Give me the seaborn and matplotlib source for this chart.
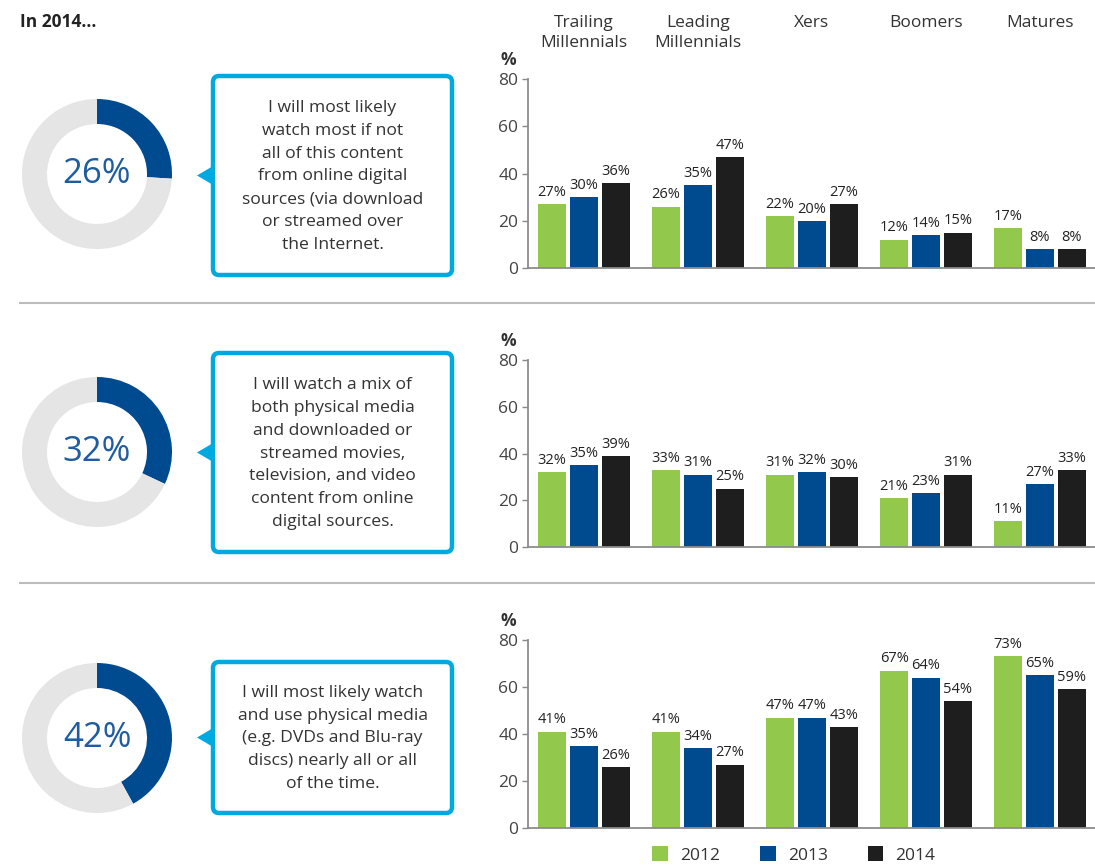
import matplotlib
matplotlib.use("Agg")
import matplotlib.pyplot as plt
from matplotlib.patches import FancyBboxPatch, Polygon
import numpy as np
import pandas as pd
import seaborn as sns

# ---- data -------------------------------------------------------------
groups = ["Trailing\nMillennials", "Leading\nMillennials", "Xers", "Boomers", "Matures"]
years = ["2012", "2013", "2014"]

online_2012 = [27, 26, 22, 12, 17]
online_2013 = [30, 35, 20, 14, 8]
online_2014 = [36, 47, 27, 15, 8]

mix_2012 = [32, 33, 31, 21, 11]
mix_2013 = [35, 31, 32, 23, 27]
mix_2014 = [39, 25, 30, 31, 33]

physical_2012 = [41, 41, 47, 67, 73]
physical_2013 = [35, 34, 47, 64, 65]
physical_2014 = [26, 27, 43, 54, 59]

donut_shares = [26, 32, 42]

statements = [
    "I will most likely\nwatch most if not\nall of this content\nfrom online digital\nsources (via download\nor streamed over\nthe Internet.",
    "I will watch a mix of\nboth physical media\nand downloaded or\nstreamed movies,\ntelevision, and video\ncontent from online\ndigital sources.",
    "I will most likely watch\nand use physical media\n(e.g. DVDs and Blu-ray\ndiscs) nearly all or all\nof the time.",
]

panels = [
    (online_2012, online_2013, online_2014),
    (mix_2012, mix_2013, mix_2014),
    (physical_2012, physical_2013, physical_2014),
]

# ---- style ------------------------------------------------------------
GREEN = "#92C84B"
BLUE = "#004A8F"
BLACK = "#1E1E1E"
RING_GREY = "#E5E5E5"
CYAN = "#00A9E0"
TEXT = "#333333"
palette = {"2012": GREEN, "2013": BLUE, "2014": BLACK}

sns.set_theme(style="white")
plt.rcParams["font.family"] = ["Open Sans", "DejaVu Sans"]

W, H = 1095, 867
fig = plt.figure(figsize=(W / 100, H / 100), dpi=100)

# overlay in pixel coordinates for separators, callouts, title
bg = fig.add_axes([0, 0, 1, 1], zorder=0)
bg.set_xlim(0, W)
bg.set_ylim(H, 0)
bg.axis("off")

bg.text(20, 22, "In 2014...", fontsize=12.5, fontweight="bold", color="#222222",
        ha="left", va="center")

for y in (303, 583):
    bg.plot([19, W], [y, y], color="#BDBDBD", lw=1.5, solid_capstyle="butt")

# layout (pixel positions)
donut_cy = [174, 452, 738]
donut_cx = 97
donut_r = 75
boxes = [(213, 76, 452, 275), (213, 353, 452, 552), (213, 662, 452, 813)]
axis_rows = [(79, 268), (360, 547), (640, 828)]  # pixel y of 80 and 0
ax_left = 528
first_center = 584
step = 114

for i in range(3):
    # donut
    cy = donut_cy[i]
    dax = fig.add_axes([(donut_cx - donut_r) / W, 1 - (cy + donut_r) / H,
                        2 * donut_r / W, 2 * donut_r / H], zorder=2)
    share = donut_shares[i]
    dax.pie([share, 100 - share], colors=[BLUE, RING_GREY], startangle=90,
            counterclock=False, radius=1,
            wedgeprops=dict(width=25 / 75, linewidth=0))
    dax.set_xlim(-1, 1)
    dax.set_ylim(-1, 1)
    dax.set_aspect("equal")
    dax.text(0, 0, f"{share}%", ha="center", va="center", fontsize=25,
             color="#1F5DA0")

    # callout box
    x0, y0, x1, y1 = boxes[i]
    box = FancyBboxPatch((x0, y0), x1 - x0, y1 - y0,
                         boxstyle="round,pad=0,rounding_size=6",
                         fc="white", ec=CYAN, lw=3.2, zorder=3)
    bg.add_patch(box)
    mid = (y0 + y1) / 2
    bg.add_patch(Polygon([[197, mid], [x0 + 1, mid - 10], [x0 + 1, mid + 10]],
                         closed=True, fc=CYAN, ec="none", zorder=3))
    bg.text((x0 + x1) / 2, mid + 1, statements[i], ha="center", va="center",
            fontsize=12.6, color=TEXT, linespacing=1.58, zorder=4)

    # bar chart
    top_px, zero_px = axis_rows[i]
    ax = fig.add_axes([ax_left / W, 1 - zero_px / H, (W - ax_left) / W,
                       (zero_px - top_px) / H], zorder=2)
    v12, v13, v14 = panels[i]
    df = pd.DataFrame({
        "group": groups * 3,
        "year": [y for y in years for _ in groups],
        "value": list(v12) + list(v13) + list(v14),
    })
    sns.barplot(data=df, x="group", y="value", hue="year", order=groups,
                hue_order=years, palette=palette, width=0.84, gap=0.125,
                saturation=1, ax=ax, legend=(i == 2), edgecolor="none")
    for cont in ax.containers:
        ax.bar_label(cont, fmt="{:.0f}%", padding=3, fontsize=10.5,
                     color="#222222")
    ax.set_xlim((ax_left - first_center) / step, (W - first_center) / step)
    ax.set_ylim(0, 80)
    ax.set_yticks([0, 20, 40, 60, 80])
    ax.set_xlabel("")
    ax.set_ylabel("")
    ax.set_xticks([])
    ax.tick_params(axis="y", left=True, length=4, width=1, color="#888888",
                   labelsize=12.5, labelcolor="#444444", pad=3)
    for s in ("top", "right"):
        ax.spines[s].set_visible(False)
    for s in ("left", "bottom"):
        ax.spines[s].set_color("#8C8C8C")
        ax.spines[s].set_linewidth(1.3)
    ax.patch.set_alpha(0)
    ax.annotate("%", xy=(0, 1), xycoords="axes fraction", xytext=(-20, 19),
                textcoords="offset pixels", ha="center", va="center",
                fontsize=12.5, fontweight="bold", color="#333333")

    if i == 0:
        for k, g in enumerate(groups):
            ax.annotate(g, xy=(k, 1), xycoords=("data", "axes fraction"),
                        xytext=(0, 64), textcoords="offset pixels",
                        ha="center", va="top", fontsize=12.5, color=TEXT,
                        linespacing=1.3)

    if i == 2:
        handles, labels = ax.get_legend_handles_labels()
        ax.get_legend().remove()
        fig.legend(handles, labels, loc="center", ncol=3, frameon=False,
                   bbox_to_anchor=(794 / W, 1 - 855 / H), fontsize=12.5,
                   handlelength=0.9, handleheight=0.9, handletextpad=0.7,
                   columnspacing=2.3, labelcolor=TEXT)

fig.savefig("out.png", dpi=100, facecolor="white")
